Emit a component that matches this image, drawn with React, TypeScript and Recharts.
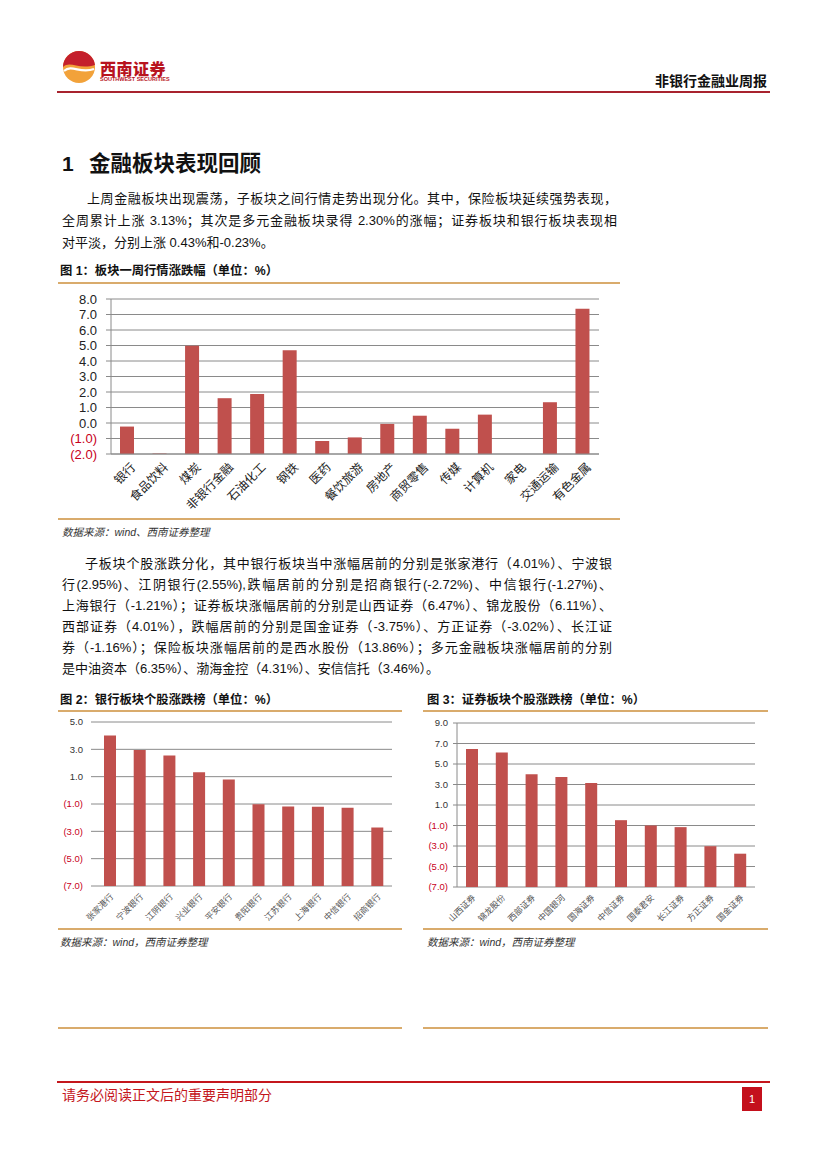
import React from "react";
import { BarChart, Bar, XAxis, YAxis, CartesianGrid } from "recharts";

// 图1 板块一周涨跌幅
const sectorNames = [
  "银行", "食品饮料", "煤炭", "非银行金融", "石油化工", "钢铁", "医药", "餐饮旅游",
  "房地产", "商贸零售", "传媒", "计算机", "家电", "交通运输", "有色金属",
];
const sectorChange = [-0.23, -1.97, 4.98, 1.6, 1.87, 4.7, -1.16, -0.93, -0.06, 0.47, -0.37, 0.54, -2.0, 1.34, 7.37];
const sectorTicks = [-2, -1, 0, 1, 2, 3, 4, 5, 6, 7, 8];

// 图2 银行板块个股
const bankNames = ["张家港行", "宁波银行", "江阴银行", "兴业银行", "平安银行", "贵阳银行", "江苏银行", "上海银行", "中信银行", "招商银行"];
const bankChange = [4.01, 2.95, 2.55, 1.32, 0.8, -1.02, -1.19, -1.21, -1.27, -2.72];
const bankTicks = [-7, -5, -3, -1, 1, 3, 5];

// 图3 证券板块个股
const brokerNames = ["山西证券", "锦龙股份", "西部证券", "中国银河", "国海证券", "中信证券", "国泰君安", "长江证券", "方正证券", "国金证券"];
const brokerChange = [6.47, 6.11, 4.01, 3.74, 3.15, -0.48, -1.0, -1.16, -3.02, -3.75];
const brokerTicks = [-7, -5, -3, -1, 1, 3, 5, 7, 9];

const BAR = "#c0504d";
const NEG = "#c8001a";
const GRID = "#8a8a8a";
const TAN = "#d9ab6c";
const CJK = '"Liberation Sans", "Noto Sans CJK SC", sans-serif';

// bars in the report rise from the bottom of the axis, not from zero
const toRows = (names: string[], values: number[], floor: number) =>
  names.map((name, i) => ({ name, range: [floor, values[i]] }));

const NumTick = ({ x, y, payload, size, color }: any) => {
  const v = payload.value as number;
  const neg = v < 0;
  const label = neg ? `(${Math.abs(v).toFixed(1)})` : v.toFixed(1);
  return (
    <text x={x} y={y} dy={size * 0.36} textAnchor="end" fontSize={size} fill={neg ? NEG : color} fontFamily={CJK}>
      {label}
    </text>
  );
};

const SlantTick = ({ x, y, payload, size, color, dx, dy }: any) => (
  <g transform={`translate(${x + dx},${y + dy})`}>
    <text x={0} y={0} dy={size * 0.36} textAnchor="end" transform="rotate(-45)" fontSize={size} fill={color} fontFamily={CJK}>
      {payload.value}
    </text>
  </g>
);

const Txt = ({ top, left, width, text, justify, size = 13, color = "#111", weight = 400, italic = false }: any) => (
  <div
    style={{
      position: "absolute",
      top: top - 11,
      left,
      width,
      height: 22,
      lineHeight: "22px",
      fontSize: size,
      color,
      fontWeight: weight,
      fontStyle: italic ? "italic" : "normal",
      textAlign: justify ? "justify" : "left",
      textAlignLast: justify ? "justify" : "left",
      fontFamily: CJK,
    }}
  >
    {text}
  </div>
);

const Rule = ({ top, left, width, color, h = 2 }: any) => (
  <div style={{ position: "absolute", top: top - h / 2, left, width, height: h, background: color }} />
);

const para1 = [
  "上周金融板块出现震荡，子板块之间行情走势出现分化。其中，保险板块延续强势表现，",
  "全周累计上涨 3.13%；其次是多元金融板块录得 2.30%的涨幅；证券板块和银行板块表现相",
  "对平淡，分别上涨 0.43%和-0.23%。",
];
const para2 = [
  "子板块个股涨跌分化，其中银行板块当中涨幅居前的分别是张家港行（4.01%）、宁波银",
  "行(2.95%)、江阴银行(2.55%),跌幅居前的分别是招商银行(-2.72%)、中信银行(-1.27%)、",
  "上海银行（-1.21%）；证券板块涨幅居前的分别是山西证券（6.47%）、锦龙股份（6.11%）、",
  "西部证券（4.01%），跌幅居前的分别是国金证券（-3.75%）、方正证券（-3.02%）、长江证",
  "券（-1.16%）；保险板块涨幅居前的是西水股份（13.86%）；多元金融板块涨幅居前的分别",
  "是中油资本（6.35%）、渤海金控（4.31%）、安信信托（3.46%）。",
];

export default function App() {
  const sectorRows = toRows(sectorNames, sectorChange, -2);
  const bankRows = toRows(bankNames, bankChange, -7);
  const brokerRows = toRows(brokerNames, brokerChange, -7);

  return (
    <div style={{ position: "absolute", left: 0, top: 0, width: 827, height: 1169, background: "#fff", overflow: "hidden" }}>
      {/* header */}
      <svg style={{ position: "absolute", left: 62, top: 50 }} width={34} height={34} viewBox="0 0 34 34">
        <circle cx={17} cy={17} r={16} fill="#f2a23a" />
        <path d="M17 1 A16 16 0 0 0 1 17 C 8 10, 16 20, 33 15 A16 16 0 0 0 17 1 Z" fill="#c4202c" />
        <path d="M2 21 C 10 14, 18 24, 32 19" stroke="#fff" strokeWidth={2.2} fill="none" />
      </svg>
      <div style={{ position: "absolute", left: 100, top: 56, fontSize: 16, fontWeight: 900, color: "#b8141e", fontFamily: CJK, letterSpacing: 0.5 }}>
        西南证券
      </div>
      <div style={{ position: "absolute", left: 100, top: 76, fontSize: 5.5, fontWeight: 700, color: "#b8141e", fontFamily: CJK }}>
        SOUTHWEST SECURITIES
      </div>
      <Txt top={81} left={655} width={120} text="非银行金融业周报" size={14} weight={700} />
      <Rule top={92} left={57} width={713} color="#a8232e" />

      {/* section text */}
      <Txt top={164} left={62} width={40} text="1" size={21} weight={700} />
      <Txt top={164} left={89} width={260} text="金融板块表现回顾" size={21.5} weight={700} />
      <Txt top={199} left={87} width={530} text={para1[0]} justify />
      <Txt top={221} left={62} width={555} text={para1[1]} justify />
      <Txt top={243} left={62} width={555} text={para1[2]} />

      {/* figure 1 */}
      <Txt top={271} left={60} width={300} text="图 1：板块一周行情涨跌幅（单位：%）" size={12.3} weight={700} />
      <Rule top={283} left={58} width={562} color={TAN} />
      <div style={{ position: "absolute", left: 50, top: 286 }}>
        <BarChart width={560} height={232} data={sectorRows} margin={{ top: 13, right: 11, bottom: 4, left: 11 }}>
          <CartesianGrid vertical={false} stroke={GRID} />
          <XAxis
            dataKey="name"
            interval={0}
            height={60}
            axisLine={{ stroke: GRID }}
            tickLine={false}
            tick={(p: any) => <SlantTick {...p} size={12} color="#222" dx={6} dy={3} />}
          />
          <YAxis
            domain={[-2, 8]}
            ticks={sectorTicks}
            interval={0}
            width={50}
            axisLine={{ stroke: GRID }}
            tickLine={{ stroke: GRID }}
            tickSize={5}
            tickMargin={9}
            tick={(p: any) => <NumTick {...p} size={13} color="#222" />}
          />
          <Bar dataKey="range" fill={BAR} barSize={14} isAnimationActive={false} />
        </BarChart>
      </div>
      <Rule top={519} left={58} width={562} color={TAN} />
      <Txt top={532} left={62} width={300} text="数据来源：wind、西南证券整理" size={10.5} italic color="#333" />

      {/* second paragraph */}
      {para2.map((line, i) => (
        <Txt
          key={i}
          top={564 + i * 21}
          left={i === 0 ? 85 : 62}
          width={i === 0 ? 527 : 550}
          text={line}
          justify={i < para2.length - 1}
        />
      ))}

      {/* figure 2 */}
      <Txt top={700} left={60} width={340} text="图 2：银行板块个股涨跌榜（单位：%）" size={12.3} weight={700} />
      <Rule top={711} left={58} width={344} color={TAN} />
      <div style={{ position: "absolute", left: 50, top: 712 }}>
        <BarChart width={350} height={215} data={bankRows} margin={{ top: 10, right: 8, bottom: 3, left: 5 }}>
          <CartesianGrid vertical={false} stroke={GRID} />
          <XAxis
            dataKey="name"
            interval={0}
            height={38}
            axisLine={false}
            tickLine={false}
            tick={(p: any) => <SlantTick {...p} size={8.5} color="#555" dx={2} dy={1} />}
          />
          <YAxis
            domain={[-7, 5]}
            ticks={bankTicks}
            interval={0}
            width={40}
            axisLine={false}
            tickLine={{ stroke: GRID }}
            tickSize={4}
            tickMargin={8}
            tick={(p: any) => <NumTick {...p} size={9.5} color="#333" />}
          />
          <Bar dataKey="range" fill={BAR} barSize={12} isAnimationActive={false} />
        </BarChart>
      </div>
      <Rule top={929} left={58} width={344} color={TAN} />
      <Txt top={942} left={60} width={300} text="数据来源：wind，西南证券整理" size={10.5} italic color="#333" />

      {/* figure 3 */}
      <Txt top={700} left={427} width={340} text="图 3：证券板块个股涨跌榜（单位：%）" size={12.3} weight={700} />
      <Rule top={711} left={423} width={345} color={TAN} />
      <div style={{ position: "absolute", left: 415, top: 712 }}>
        <BarChart width={350} height={215} data={brokerRows} margin={{ top: 11, right: 10, bottom: 3, left: 5 }}>
          <CartesianGrid vertical={false} stroke={GRID} />
          <XAxis
            dataKey="name"
            interval={0}
            height={37}
            axisLine={false}
            tickLine={false}
            tick={(p: any) => <SlantTick {...p} size={8.5} color="#555" dx={2} dy={1} />}
          />
          <YAxis
            domain={[-7, 9]}
            ticks={brokerTicks}
            interval={0}
            width={37}
            axisLine={{ stroke: GRID }}
            tickLine={{ stroke: GRID }}
            tickSize={4}
            tickMargin={5}
            tick={(p: any) => <NumTick {...p} size={9.5} color="#333" />}
          />
          <Bar dataKey="range" fill={BAR} barSize={12} isAnimationActive={false} />
        </BarChart>
      </div>
      <Rule top={929} left={423} width={345} color={TAN} />
      <Txt top={942} left={427} width={300} text="数据来源：wind，西南证券整理" size={10.5} italic color="#333" />

      {/* footer */}
      <Rule top={1028} left={58} width={344} color={TAN} />
      <Rule top={1028} left={423} width={345} color={TAN} />
      <Rule top={1082} left={57} width={713} color="#c4161c" />
      <Txt top={1095} left={62} width={300} text="请务必阅读正文后的重要声明部分" size={14} color="#c4161c" />
      <div
        style={{
          position: "absolute",
          left: 742,
          top: 1087,
          width: 20,
          height: 24,
          background: "#c4101c",
          color: "#fff",
          fontSize: 11,
          lineHeight: "24px",
          textAlign: "center",
          fontFamily: CJK,
        }}
      >
        1
      </div>
    </div>
  );
}
